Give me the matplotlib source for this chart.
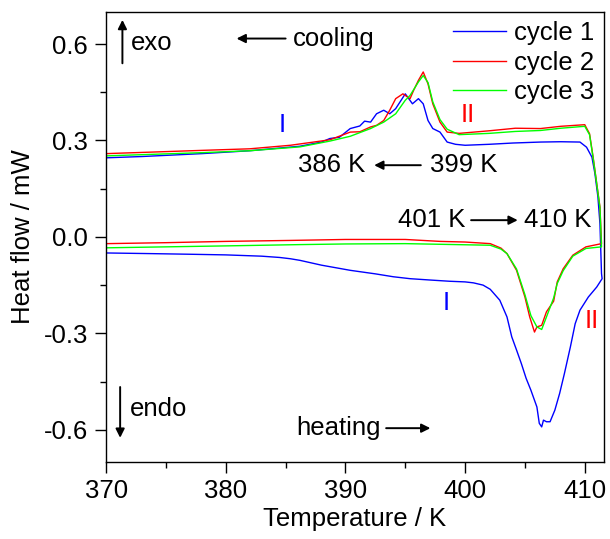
import matplotlib
matplotlib.use("Agg")
import matplotlib.pyplot as plt
import numpy as np

plt.rcParams['font.family'] = ['Liberation Sans', 'DejaVu Sans']

# cycle 1 (blue)
heat1_T = [370.0, 373.7, 377.0, 380.0, 383.0, 384.5, 385.4, 386.2, 388.0, 390.4,
           392.5, 394.0, 395.4, 397.0, 398.7, 400.0, 400.7, 401.5, 402.1, 402.9,
           403.5, 403.9, 404.3, 404.7, 405.1, 405.5, 406.0, 406.2, 406.4, 406.55,
           406.8, 407.1, 407.5, 407.9, 408.3, 408.8, 409.2, 409.6, 410.3, 411.0, 411.45]
heat1_H = [-0.050, -0.052, -0.054, -0.056, -0.060, -0.064, -0.068, -0.073, -0.088, -0.104,
           -0.115, -0.124, -0.130, -0.134, -0.138, -0.140, -0.143, -0.150, -0.163, -0.197,
           -0.249, -0.311, -0.352, -0.394, -0.440, -0.477, -0.529, -0.580, -0.591, -0.570,
           -0.575, -0.575, -0.539, -0.487, -0.425, -0.342, -0.270, -0.228, -0.187, -0.156, -0.130]
cool1_T = [370.0, 373.0, 378.0, 382.0, 386.2, 388.0, 388.7, 389.5, 390.4, 391.2,
           391.6, 392.1, 392.6, 393.2, 393.7, 394.2, 395.0, 395.6, 396.1, 396.5,
           396.9, 397.3, 397.9, 398.5, 399.2, 400.0, 402.0, 404.0, 406.3, 408.0,
           409.6, 410.15, 410.6, 410.85, 411.1, 411.27, 411.4]
cool1_H = [0.246, 0.250, 0.259, 0.268, 0.282, 0.295, 0.306, 0.310, 0.337, 0.345,
           0.360, 0.357, 0.383, 0.394, 0.383, 0.399, 0.445, 0.414, 0.430, 0.414,
           0.362, 0.337, 0.326, 0.295, 0.288, 0.285, 0.288, 0.292, 0.295, 0.296,
           0.295, 0.279, 0.248, 0.197, 0.124, 0.041, -0.114]

# cycle 2 (red)
heat2_T = [370.0, 375.0, 380.0, 385.4, 390.0, 395.0, 397.9, 400.0, 402.1, 403.0,
           403.5, 404.3, 405.0, 405.4, 405.8, 406.0, 406.4, 406.8, 407.4, 407.7,
           408.2, 409.0, 410.1, 411.4]
heat2_H = [-0.021, -0.018, -0.014, -0.011, -0.008, -0.008, -0.014, -0.016, -0.021, -0.035,
           -0.052, -0.104, -0.187, -0.249, -0.296, -0.280, -0.275, -0.233, -0.200, -0.140,
           -0.099, -0.057, -0.031, -0.021]
cool2_T = [370.0, 374.0, 377.9, 382.0, 385.4, 388.7, 390.4, 391.2, 392.1, 392.6,
           393.2, 393.7, 394.2, 394.8, 395.4, 395.7, 396.1, 396.5, 396.9, 397.3,
           397.9, 398.5, 399.5, 402.0, 404.2, 406.3, 408.0, 410.0, 410.4, 410.7,
           411.0, 411.27, 411.4]
cool2_H = [0.259, 0.264, 0.269, 0.274, 0.285, 0.302, 0.326, 0.327, 0.342, 0.347,
           0.362, 0.394, 0.430, 0.445, 0.430, 0.456, 0.487, 0.513, 0.476, 0.414,
           0.357, 0.326, 0.322, 0.330, 0.338, 0.337, 0.344, 0.349, 0.321, 0.248,
           0.166, 0.093, -0.020]

# cycle 3 (green)
heat3_T = [370.0, 375.0, 380.0, 386.2, 390.0, 395.0, 397.9, 402.1, 403.0, 403.5,
           404.3, 405.0, 405.5, 406.0, 406.4, 406.8, 407.4, 407.7, 408.2, 409.0,
           410.1, 411.4]
heat3_H = [-0.034, -0.031, -0.028, -0.024, -0.022, -0.021, -0.023, -0.026, -0.038, -0.052,
           -0.100, -0.180, -0.245, -0.280, -0.288, -0.249, -0.190, -0.145, -0.105, -0.060,
           -0.036, -0.031]
cool3_T = [370.0, 374.0, 378.0, 382.0, 386.2, 388.7, 390.4, 392.1, 393.2, 394.2,
           395.0, 395.4, 396.1, 396.5, 396.9, 397.3, 397.9, 398.5, 399.5, 402.0,
           404.2, 406.3, 408.0, 410.0, 410.4, 410.7, 411.0, 411.27, 411.4]
cool3_H = [0.252, 0.257, 0.262, 0.268, 0.280, 0.298, 0.313, 0.337, 0.357, 0.383,
           0.425, 0.440, 0.482, 0.502, 0.480, 0.420, 0.365, 0.335, 0.318, 0.322,
           0.328, 0.331, 0.338, 0.344, 0.318, 0.245, 0.165, 0.090, -0.031]

labels = ['cycle 1', 'cycle 2', 'cycle 3']
colors = ['#0000ff', '#ff0000', '#00ff00']

FS = 18.5

fig = plt.figure(figsize=(6.10, 5.39), dpi=100)
ax = fig.add_axes([0.174, 0.143, 0.816, 0.835])

cycles = [(heat1_T, heat1_H, cool1_T, cool1_H),
          (heat2_T, heat2_H, cool2_T, cool2_H),
          (heat3_T, heat3_H, cool3_T, cool3_H)]
for (hT, hH, cT, cH), lab, col in zip(cycles, labels, colors):
    # heating up, then cooling back down -> one closed loop
    T = list(hT) + list(cT)[::-1]
    H = list(hH) + list(cH)[::-1]
    ax.plot(T, H, color=col, lw=1.0, label=lab)

ax.set_xlim(370, 411.6)
ax.set_ylim(-0.70, 0.70)
ax.set_xticks([370, 380, 390, 400, 410])
ax.set_xticks([375, 385, 395, 405], minor=True)
ax.set_yticks([-0.6, -0.3, 0.0, 0.3, 0.6])
ax.set_yticks([-0.45, -0.15, 0.15, 0.45], minor=True)
ax.yaxis.set_major_formatter(matplotlib.ticker.FormatStrFormatter('%.1f'))
ax.tick_params(which='major', direction='out', length=8, width=1.0, labelsize=FS, pad=4)
ax.tick_params(which='minor', direction='out', length=4, width=1.0)
ax.tick_params(axis='y', pad=5)
for sp in ax.spines.values():
    sp.set_linewidth(1.0)

ax.set_xlabel('Temperature / K', fontsize=FS, labelpad=3)
ax.set_ylabel('Heat flow / mW', fontsize=FS, labelpad=6)

leg = ax.legend(loc='upper right', bbox_to_anchor=(1.012, 1.014), frameon=False,
                fontsize=FS, handlelength=2.1, handletextpad=0.3, labelspacing=0.22,
                borderaxespad=0.2)

arr = dict(arrowstyle='-|>', color='black', lw=1.4, mutation_scale=13,
           shrinkA=0, shrinkB=0)

# exo / endo
ax.annotate('', xy=(371.36, 0.675), xytext=(371.36, 0.540), arrowprops=arr)
ax.text(372.1, 0.602, 'exo', fontsize=FS, va='center', ha='left')
ax.annotate('', xy=(371.17, -0.625), xytext=(371.17, -0.467), arrowprops=arr)
ax.text(372.0, -0.536, 'endo', fontsize=FS, va='center', ha='left')

# cooling / heating
ax.annotate('', xy=(380.9, 0.617), xytext=(385.0, 0.617), arrowprops=arr)
ax.text(385.6, 0.617, 'cooling', fontsize=FS, va='center', ha='left')
ax.text(385.9, -0.595, 'heating', fontsize=FS, va='center', ha='left')
ax.annotate('', xy=(397.1, -0.595), xytext=(393.4, -0.595), arrowprops=arr)

# transition temperatures
ax.text(386.0, 0.223, '386 K', fontsize=FS, va='center', ha='left')
ax.annotate('', xy=(392.4, 0.223), xytext=(396.3, 0.223), arrowprops=arr)
ax.text(397.1, 0.223, '399 K', fontsize=FS, va='center', ha='left')
ax.text(394.4, 0.052, '401 K', fontsize=FS, va='center', ha='left')
ax.annotate('', xy=(404.4, 0.052), xytext=(400.5, 0.052), arrowprops=arr)
ax.text(404.9, 0.052, '410 K', fontsize=FS, va='center', ha='left')

# phase labels
ax.text(384.7, 0.347, 'I', color='#0000ff', fontsize=FS, ha='center', va='center')
ax.text(400.2, 0.378, 'II', color='#ff0000', fontsize=FS, ha='center', va='center')
ax.text(398.4, -0.206, 'I', color='#0000ff', fontsize=FS, ha='center', va='center')
ax.text(410.6, -0.262, 'II', color='#ff0000', fontsize=FS, ha='center', va='center')

fig.savefig('out.png', dpi=100)
